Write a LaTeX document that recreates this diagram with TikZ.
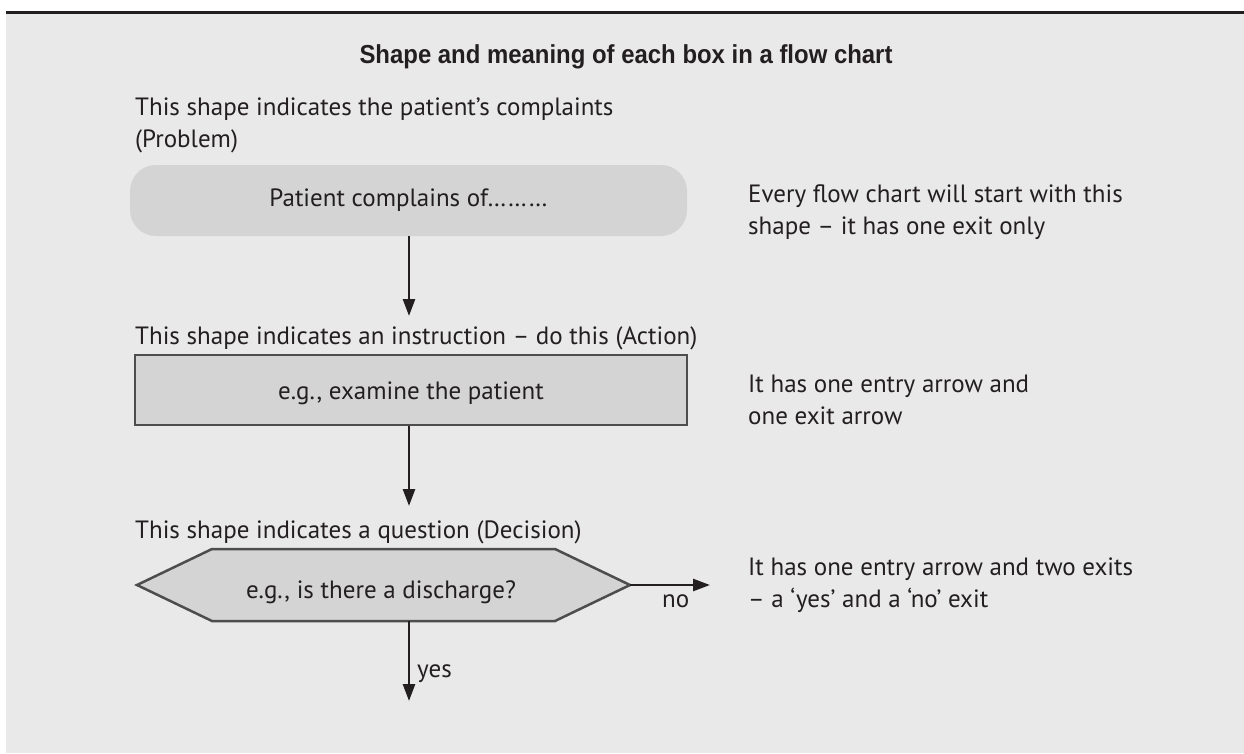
\documentclass[tikz,border=0pt]{standalone}
\usepackage{fontspec}
\setmainfont{PT Sans}
\newfontfamily\titlefont{Liberation Sans}
\usetikzlibrary{arrows.meta}
\definecolor{bg}{HTML}{E9E9E9}
\definecolor{boxfill}{HTML}{D4D4D4}
\definecolor{boxline}{HTML}{4D4D4D}
\definecolor{ink}{HTML}{231F20}
\begin{document}
\begin{tikzpicture}[x=1pt,y=-1pt,
  every node/.style={text=ink, inner sep=0pt, font=\fontsize{25}{30}\selectfont},
  lbl/.style={anchor=base west},
  arr/.style={draw=ink, line width=2.6pt, -{Triangle[length=17pt,width=12pt]}},
  startbox/.style={fill=boxfill, rounded corners=26pt, minimum width=557pt, minimum height=71pt},
  actbox/.style={fill=boxfill, draw=boxline, line width=2.5pt, minimum width=552pt, minimum height=70pt},
  hexbox/.style={fill=boxfill, draw=boxline, line width=2.5pt, line join=miter}]
\useasboundingbox (0,0) rectangle (1244,753);
\fill[white] (0,0) rectangle (1244,753);
\fill[bg] (6,12) rectangle (1244,753);
\draw[ink, line width=3.5pt] (6,12.5) -- (1244,12.5);
% title
\node[anchor=base] (title) at (626,63) {\titlefont\bfseries\fontsize{26}{31}\selectfont\scalebox{0.92}[1]{Shape and meaning of each box in a flow chart}};
% row 1
\node[lbl] (t1a) at (135,115) {This shape indicates the patient’s complaints};
\node[lbl] (t1b) at (135,147) {(Problem)};
\node[startbox] (start) at (408.5,200.5) {Patient complains of………};
\node[lbl] (r1a) at (748,202) {Every flow chart will start with this};
\node[lbl] (r1b) at (748,234) {shape – it has one exit only};
% row 2
\node[lbl] (t2) at (135,344) {This shape indicates an instruction – do this (Action)};
\node[actbox] (act) at (411,390) {};
\node[anchor=base] (acttext) at (411,399) {e.g., examine the patient};
\node[lbl] (r2a) at (748,392) {It has one entry arrow and};
\node[lbl] (r2b) at (748,424) {one exit arrow};
\draw[arr] (start.south -| 409,0) -- (409,316) coordinate (a1end);
% row 3
\node[lbl] (t3) at (135,538) {This shape indicates a question (Decision)};
\coordinate (hexL) at (137,585);
\coordinate (hexR) at (630,585);
\coordinate (hexB) at (409,621);
\draw[hexbox] (hexL) -- (212,549) -- (555,549) -- (hexR) -- (555,621) -- (212,621) -- cycle;
\node (dec) at (381,592) {e.g., is there a discharge?};
\draw[arr] (act.south -| 409,0) -- (409,506) coordinate (a2end);
\coordinate (noEnd) at (710,585);
\coordinate (yesEnd) at (409,701);
\draw[arr] (hexR) -- (noEnd);
\draw[arr] (hexB) -- (yesEnd);
\node[lbl] (no) at (662,607) {no};
\node[lbl] (yes) at (417,677) {yes};
\node[lbl] (r3a) at (748,575) {It has one entry arrow and two exits};
\node[lbl] (r3b) at (748,607) {– a ‘yes’ and a ‘no’ exit};
\end{tikzpicture}
\end{document}
